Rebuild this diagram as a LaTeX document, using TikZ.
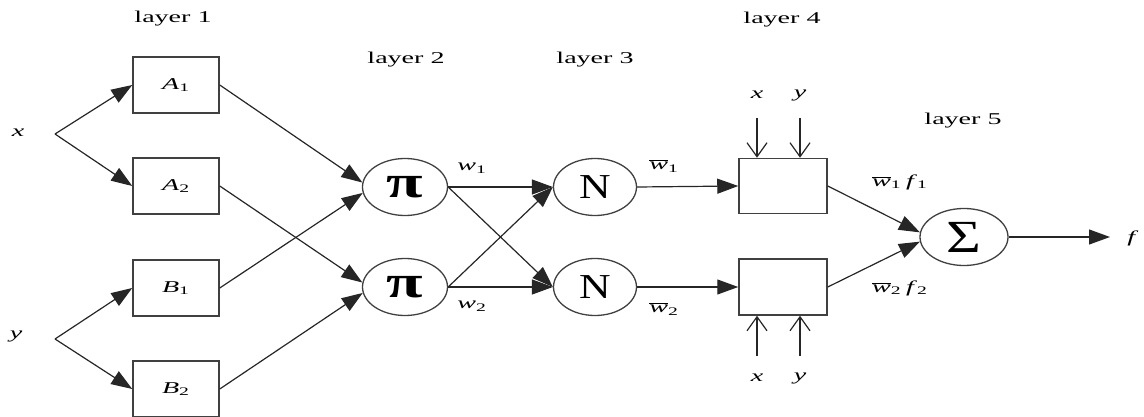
\documentclass[tikz,border=0pt]{standalone}
\usepackage{fontspec}
\setmainfont{Liberation Serif}
\usetikzlibrary{arrows.meta,shapes.geometric}
\newcommand\hs[2][1.7]{\scalebox{#1}[1]{#2}}
\newcommand\mysub[2]{\textit{#1}\textsubscript{#2}}
\newcommand\wbar[1]{$\overline{\hbox{\textit{w}}}$\textsubscript{#1}}
\begin{document}
\begin{tikzpicture}[x=1pt,y=-1pt,
  box/.style={draw=black!75, line width=1.5pt, minimum width=86pt, minimum height=56pt, inner sep=0pt, font=\fontsize{16.5}{18}\selectfont},
  ell/.style={draw=black!75, ellipse, line width=1.3pt, minimum width=85pt, minimum height=57pt, inner sep=0pt},
  con/.style={draw=black!85, line width=1.2pt, -{Triangle[length=21pt,width=15pt]}},
  inp/.style={draw=black!85, line width=1.2pt, -{Straight Barb[length=14pt,width=20pt,line width=1.2pt]}},
  lbl/.style={font=\fontsize{16.5}{18}\selectfont, inner sep=0pt}]
\useasboundingbox (0,0) rectangle (1144,417);
% layer labels
\node[lbl] (L1) at (173,19) {\hs{layer 1}};
\node[lbl] (L2) at (406,60) {\hs{layer 2}};
\node[lbl] (L3) at (595,60) {\hs{layer 3}};
\node[lbl] (L4) at (782,20) {\hs{layer 4}};
\node[lbl] (L5) at (963,121) {\hs{layer 5}};
% inputs
\node[lbl] (xl) at (18,133) {\hs{\textit{x}}};
\node[lbl] (yl) at (16,336) {\hs{\textit{y}}};
\coordinate (xs) at (55,134);
\coordinate (ys) at (55,339);
% layer 1
\node[box] (A1) at (176,85) {\hs{\mysub{A}{1}}};
\node[box] (A2) at (176,186) {\hs{\mysub{A}{2}}};
\node[box] (B1) at (176,288) {\hs{\mysub{B}{1}}};
\node[box] (B2) at (176,389) {\hs{\mysub{B}{2}}};
% layer 2
\node[ell] (P1) at (405,187) {\hs[1.45]{\fontsize{46}{48}\selectfont\bfseries π}};
\node[ell] (P2) at (405,287) {\hs[1.45]{\fontsize{46}{48}\selectfont\bfseries π}};
% layer 3
\node[ell,minimum width=83pt] (N1) at (595,187) {\hs[1.25]{\fontsize{35}{37}\selectfont N}};
\node[ell,minimum width=83pt] (N2) at (595,287) {\hs[1.25]{\fontsize{35}{37}\selectfont N}};
% layer 4
\node[box,minimum width=88pt,minimum height=55pt] (R1) at (783,186) {};
\node[box,minimum width=88pt,minimum height=56pt] (R2) at (783,287) {};
% layer 5
\node[ell,minimum width=88pt] (S) at (964,237) {\hs[1.3]{\fontsize{46}{48}\selectfont Σ}};
\coordinate (out) at (1110,237);
\node[lbl] (fl) at (1133,238) {\hs{\textit{f}}};
% edge labels
\node[lbl] (w1) at (472,168) {\hs{\mysub{w}{1}}};
\node[lbl] (w2) at (472,306) {\hs{\mysub{w}{2}}};
\node[lbl] (wb1) at (664,166) {\hs{\wbar{1}}};
\node[lbl] (wb2) at (664,309) {\hs{\wbar{2}}};
\node[lbl] (wf1) at (900,182) {\hs{\wbar{1}\,\mysub{f}{1}}};
\node[lbl] (wf2) at (900,288) {\hs{\wbar{2}\,\mysub{f}{2}}};
% layer 4 side inputs
\coordinate (tx) at (757,118);
\coordinate (ty) at (800,118);
\coordinate (bx) at (757,356);
\coordinate (by) at (800,356);
\node[lbl] (txl) at (757,95) {\hs{\textit{x}}};
\node[lbl] (tyl) at (800,95) {\hs{\textit{y}}};
\node[lbl] (bxl) at (757,378) {\hs{\textit{x}}};
\node[lbl] (byl) at (800,378) {\hs{\textit{y}}};
\draw[inp] (tx) -- (tx |- R1.north);
\draw[inp] (ty) -- (ty |- R1.north);
\draw[inp] (bx) -- (bx |- R2.south);
\draw[inp] (by) -- (by |- R2.south);
% connectors
\draw[con] (xs) -- (A1.west);
\draw[con] (xs) -- (A2.west);
\draw[con] (ys) -- (B1.west);
\draw[con] (ys) -- (B2.west);
\draw[con] (A1.east) -- (P1.174);
\draw[con] (B1.east) -- (P1.188);
\draw[con] (A2.east) -- (P2.174);
\draw[con] (B2.east) -- (P2.188);
\draw[con] (P1.east) -- (N1.west);
\draw[con] (P1.east) -- (N2.west);
\draw[con] (P2.east) -- (N1.west);
\draw[con] (P2.east) -- (N2.west);
\draw[con] (N1.east) -- (R1.west);
\draw[con] (N2.east) -- (R2.west);
\draw[con] (R1.east) -- (S.174);
\draw[con] (R2.east) -- (S.186);
\draw[con] (S.east) -- (out);
\end{tikzpicture}
\end{document}
